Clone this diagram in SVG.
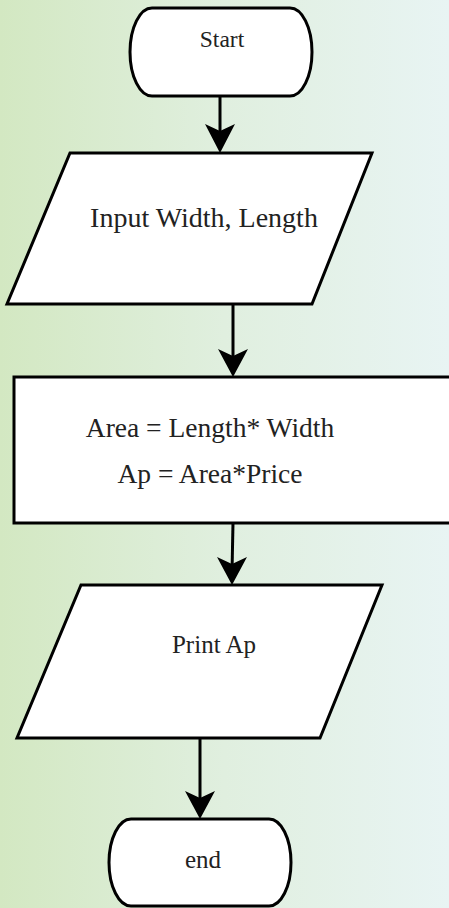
<svg xmlns="http://www.w3.org/2000/svg" width="449" height="908" viewBox="0 0 449 908">
<defs>
<linearGradient id="bg" x1="0" y1="0" x2="1" y2="0">
<stop offset="0" stop-color="#d3e8c2"/>
<stop offset="0.5" stop-color="#e0efdf"/>
<stop offset="1" stop-color="#e8f4f3"/>
</linearGradient>
<style>
.shape{fill:#fff;stroke:#000;stroke-width:3;stroke-linejoin:miter}
.line{fill:none;stroke:#000;stroke-width:3}
.head{fill:#000;stroke:none}
text{font-family:"Liberation Serif","DejaVu Serif",serif;fill:#222;text-anchor:middle}
</style>
</defs>
<rect x="0" y="0" width="449" height="908" fill="url(#bg)"/>
<g id="connectors">
<line class="line" x1="220" y1="97" x2="220" y2="140"/>
<path class="head" d="M220,153 L205,124 L220,131 L235,124 Z"/>
<line class="line" x1="233" y1="304" x2="233" y2="364"/>
<path class="head" d="M233,377 L218,349 L233,356 L248,349 Z"/>
<line class="line" x1="233" y1="523" x2="232" y2="572"/>
<path class="head" d="M232,585 L217,557 L232,564 L247,557 Z"/>
<line class="line" x1="200" y1="738" x2="200" y2="806"/>
<path class="head" d="M200,819 L185,791 L200,798 L215,791 Z"/>
</g>
<g id="start">
<path class="shape" d="M152,8 L290,8 A22,44 0 0 1 290,96 L152,96 A22,44 0 0 1 152,8 Z"/>
<text x="222" y="47" font-size="23.5">Start</text>
</g>
<g id="input">
<polygon class="shape" points="70,153 372,153 312,304 7,304"/>
<text x="204" y="227" font-size="28">Input Width, Length</text>
</g>
<g id="process">
<rect class="shape" x="14" y="377" width="450" height="146"/>
<text x="210" y="437" font-size="27.5">Area = Length* Width</text>
<text x="210" y="483" font-size="27.5">Ap = Area*Price</text>
</g>
<g id="output">
<polygon class="shape" points="81,585 382,585 320,738 17,738"/>
<text x="214" y="653" font-size="25">Print Ap</text>
</g>
<g id="end">
<path class="shape" d="M131,819 L269,819 A22,43.5 0 0 1 269,906 L131,906 A22,43.5 0 0 1 131,819 Z"/>
<text x="203" y="868" font-size="25">end</text>
</g>
</svg>
